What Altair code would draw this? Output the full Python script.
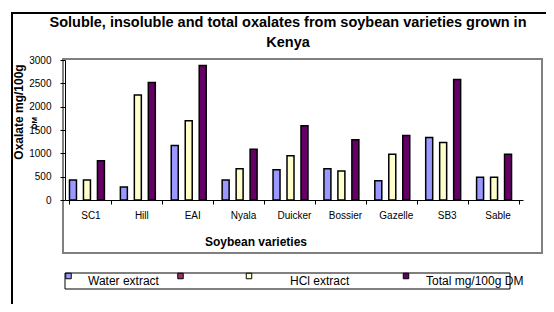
import altair as alt
import pandas as pd

# ---- data ----
varieties = ["SC1", "Hill", "EAI", "Nyala", "Duicker", "Bossier", "Gazelle", "SB3", "Sable"]
water = [430, 280, 1170, 430, 650, 670, 410, 1340, 490]
hcl = [430, 2250, 1700, 670, 950, 620, 980, 1230, 490]
total = [840, 2520, 2880, 1090, 1590, 1290, 1380, 2580, 980]

series_names = ["Water extract", "HCl extract", "Total mg/100g DM"]
series_colors = ["#9999FF", "#FFFFCC", "#660066"]
legend_names = ["Water extract", "", "HCl extract", "Total mg/100g DM"]
legend_colors = ["#9999FF", "#993366", "#FFFFCC", "#660066"]
y_ticks = [0, 500, 1000, 1500, 2000, 2500, 3000]

title_lines = ["Soluble, insoluble and total oxalates from soybean varieties grown in", "Kenya"]
y_title = "Oxalate mg/100g"
y_title_extra = "DM"
x_title = "Soybean varieties"

# ---- layout (pixel positions relative to plot area) ----
FONT = "Liberation Sans"
W, H = 458, 140
slots = ["Water extract", "_a", "HCl extract", "_b", "Total mg/100g DM", "_c"]
legend_sym_x = [3.5, 115.5, 184, 341]
legend_txt_x = [23, None, 225, 361]

rows = []
for i, v in enumerate(varieties):
    for name, vals in zip(series_names, [water, hcl, total]):
        rows.append({"variety": v, "series": name, "value": vals[i]})
df = pd.DataFrame(rows)

one = alt.Data(values=[{"k": 1}])

bars = alt.Chart(df).mark_bar(stroke="black", strokeWidth=1.5).encode(
    x=alt.X("variety:N", sort=varieties,
            scale=alt.Scale(paddingInner=0.176, paddingOuter=0.088),
            axis=alt.Axis(title=None, labelAngle=0, tickBand="extent", tickSize=4,
                          labelPadding=6, labelFont=FONT, labelFontSize=10,
                          labelColor="black", domainColor="black", tickColor="black",
                          zindex=1)),
    xOffset=alt.XOffset("series:N", scale=alt.Scale(domain=slots, paddingInner=0, paddingOuter=0)),
    y=alt.Y("value:Q", scale=alt.Scale(domain=[0, 3000], nice=False),
            axis=alt.Axis(title=None, values=y_ticks, format="d", grid=False, tickSize=5,
                          labelPadding=9, labelFont=FONT, labelFontSize=10,
                          labelColor="black", domainColor="black", tickColor="black",
                          zindex=1)),
    color=alt.Color("series:N", scale=alt.Scale(domain=series_names, range=series_colors),
                    legend=None),
)

layers = []
# outer frame (left and top edges; the rest lies outside the window)
layers.append(alt.Chart(one).mark_rule(color="black", strokeWidth=2).encode(
    x=alt.value(-53), y=alt.value(-48), y2=alt.value(244)))
layers.append(alt.Chart(one).mark_rule(color="black", strokeWidth=2).encode(
    x=alt.value(-54), x2=alt.value(481), y=alt.value(-47)))
# title
for i, line in enumerate(title_lines):
    layers.append(alt.Chart(one).mark_text(text=line, font=FONT, fontSize=14.5, fontWeight="bold",
                                           align="center", baseline="middle", color="black").encode(
        x=alt.value(223), y=alt.value(-37 + 20 * i)))
# gray plot-area box
layers.append(alt.Chart(one).mark_rect(fillOpacity=0, stroke="#808080", strokeWidth=2).encode(
    x=alt.value(-2), x2=alt.value(477), y=alt.value(-1), y2=alt.value(193)))
# y title
layers.append(alt.Chart(one).mark_text(text=y_title, font=FONT, fontSize=12, fontWeight="bold",
                                       angle=270, align="center", baseline="middle", color="black").encode(
    x=alt.value(-46), y=alt.value(52)))
layers.append(alt.Chart(one).mark_rect(color="white").encode(
    x=alt.value(-36), x2=alt.value(-25), y=alt.value(57), y2=alt.value(70)))
layers.append(alt.Chart(one).mark_text(text=y_title_extra, font=FONT, fontSize=8, fontWeight="bold",
                                       angle=270, align="center", baseline="middle", color="black").encode(
    x=alt.value(-30), y=alt.value(63)))
# x title
layers.append(alt.Chart(one).mark_text(text=x_title, font=FONT, fontSize=12, fontWeight="bold",
                                       align="center", baseline="middle", color="black").encode(
    x=alt.value(191), y=alt.value(182)))
# legend box
layers.append(alt.Chart(one).mark_rect(fillOpacity=0, stroke="black", strokeWidth=1).encode(
    x=alt.value(0), x2=alt.value(445), y=alt.value(213), y2=alt.value(229)))
for name, col, sx, tx in zip(legend_names, legend_colors, legend_sym_x, legend_txt_x):
    layers.append(alt.Chart(one).mark_point(shape="square", filled=True, size=30, fill=col,
                                            stroke="black", strokeWidth=1, opacity=1).encode(
        x=alt.value(sx), y=alt.value(216)))
    if tx is not None and name:
        layers.append(alt.Chart(one).mark_text(text=name, font=FONT, fontSize=12,
                                               align="left", baseline="middle", color="black").encode(
            x=alt.value(tx), y=alt.value(221)))

chart = alt.layer(bars, *layers).properties(
    width=W, height=H,
    autosize=alt.AutoSizeParams(type="none"),
    padding={"left": 57, "top": 52, "right": 23, "bottom": 104},
    background="white",
).configure_view(stroke=None)

chart.save("out.html", embed_options={"renderer": "svg", "actions": False})
